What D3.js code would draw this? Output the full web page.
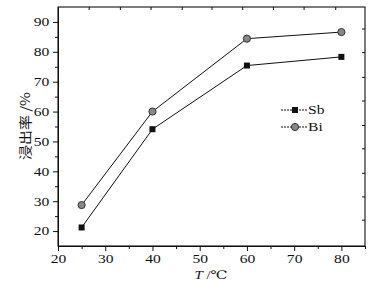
<!DOCTYPE html>
<html><head><meta charset="utf-8">
<script src="https://cdn.jsdelivr.net/npm/d3@7"></script>
<style>
body{margin:0;background:#fff;}
svg{display:block;}
svg text{font-family:"Liberation Serif","DejaVu Serif",serif !important;fill:#111;}
svg text.cjk{font-family:"Noto Sans CJK SC",sans-serif !important;}
</style></head>
<body><svg id="c" width="391" height="287"></svg>
<script>
const temps = [25, 40, 60, 80];
const sb = [21.2, 54.1, 75.4, 78.3];
const bi = [28.7, 60.0, 84.4, 86.6];
const xTicks = [20, 30, 40, 50, 60, 70, 80];
const yTicks = [20, 30, 40, 50, 60, 70, 80, 90];
const xMinor = [25, 35, 45, 55, 65, 75, 85];
const yMinor = [25, 35, 45, 55, 65, 75, 85];
const topTicks = [26.5, 33.1, 39.6, 46.2, 52.5, 59.0, 65.5, 72.0, 78.7];
const rightTicks = [23.8, 31.6, 39.5, 47.7, 55.5, 63.7, 71.6, 79.9, 87.8];

const SERIF = "'Liberation Serif','DejaVu Serif',serif";
const svg = d3.select("#c");
const L = 58, R = 365, T = 7, B = 246;
const x = d3.scaleLinear().domain([20, 85]).range([L, R]);
const y = d3.scaleLinear().domain([15, 95]).range([B, T]);
const sx = 1.3;

// bottom axis
const gx = svg.append("g").attr("transform", `translate(0,${B})`)
  .call(d3.axisBottom(x).tickValues(xTicks).tickSize(5).tickSizeOuter(0).tickPadding(3));
gx.attr("font-family", SERIF);
gx.selectAll(".tick text").attr("font-size", 12).attr("transform", `scale(${sx},1)`);
svg.append("g").attr("transform", `translate(0,${B})`)
  .call(d3.axisBottom(x).tickValues(xMinor).tickSize(3).tickFormat("").tickSizeOuter(0));

// left axis
const gy = svg.append("g").attr("transform", `translate(${L},0)`)
  .call(d3.axisLeft(y).tickValues(yTicks).tickSize(5).tickSizeOuter(0).tickPadding(3));
gy.attr("font-family", SERIF);
gy.selectAll(".tick text").attr("font-size", 12).attr("x", -8 / sx - 0.5)
  .attr("transform", `scale(${sx},1)`);
svg.append("g").attr("transform", `translate(${L},0)`)
  .call(d3.axisLeft(y).tickValues(yMinor).tickSize(3).tickFormat("").tickSizeOuter(0));

// top & right ticks (inward)
svg.append("g").attr("transform", `translate(0,${T})`)
  .call(d3.axisBottom(x).tickValues(topTicks).tickSize(3).tickFormat("").tickSizeOuter(0))
  .select(".domain").remove();
svg.append("g").attr("transform", `translate(${R},0)`)
  .call(d3.axisLeft(y).tickValues(rightTicks).tickSize(3).tickFormat("").tickSizeOuter(0))
  .select(".domain").remove();

// frame
svg.append("rect").attr("x", L).attr("y", T).attr("width", R - L).attr("height", B - T)
  .attr("fill", "none").attr("stroke", "#111").attr("stroke-width", 1.1);
svg.selectAll(".domain").attr("stroke", "#111");
svg.selectAll(".tick line").attr("stroke", "#111");

const line = d3.line().x((d, i) => x(temps[i])).y(d => y(d));
svg.append("path").datum(sb).attr("d", line).attr("fill", "none").attr("stroke", "#111").attr("stroke-width", 1);
svg.append("path").datum(bi).attr("d", line).attr("fill", "none").attr("stroke", "#111").attr("stroke-width", 1);

svg.selectAll(".sbm").data(sb).enter().append("rect")
  .attr("x", (d, i) => x(temps[i]) - 3).attr("y", d => y(d) - 3)
  .attr("width", 6).attr("height", 6).attr("fill", "#111");
svg.selectAll(".bim").data(bi).enter().append("circle")
  .attr("cx", (d, i) => x(temps[i])).attr("cy", d => y(d)).attr("r", 3.6)
  .attr("fill", "#888").attr("stroke", "#333").attr("stroke-width", 1);

// legend
const lg = svg.append("g");
[["Sb", 110], ["Bi", 127]].forEach(([name, ly]) => {
  lg.append("line").attr("x1", 281).attr("x2", 307).attr("y1", ly).attr("y2", ly)
    .attr("stroke", "#111").attr("stroke-width", 1).attr("stroke-dasharray", "2,1");
  if (name === "Sb") lg.append("rect").attr("x", 292).attr("y", ly - 3).attr("width", 6).attr("height", 6).attr("fill", "#111");
  else lg.append("circle").attr("cx", 295).attr("cy", ly).attr("r", 3.6).attr("fill", "#888").attr("stroke", "#333");
  lg.append("text").attr("transform", `translate(308,${ly + 4}) scale(${sx},1)`)
    .attr("font-family", SERIF).attr("font-size", 12).text(name);
});

// axis titles
const xt = svg.append("text").attr("transform", `translate(211,279) scale(${sx},1)`)
  .attr("text-anchor", "middle").attr("font-size", 11.5).attr("font-family", SERIF);
xt.append("tspan").attr("font-style", "italic").text("T");
xt.append("tspan").text(" /℃");

svg.append("text").attr("class", "cjk").attr("transform", "translate(30,126) rotate(-90) scale(1.15,1)")
  .attr("text-anchor", "middle").attr("font-size", 13)
  .attr("font-family", "'Noto Sans CJK SC',sans-serif")
  .text("浸出率 /%");
</script></body></html>
